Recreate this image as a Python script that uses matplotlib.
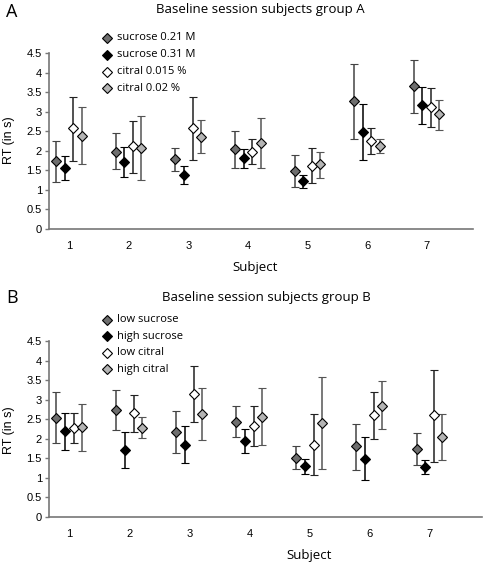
import numpy as np
import matplotlib
matplotlib.use("Agg")
import matplotlib.pyplot as plt
from matplotlib.lines import Line2D

subjects = [1, 2, 3, 4, 5, 6, 7]

# group A: mean, lower end, upper end of error bar (RT in s)
labels_a = ["sucrose 0.21 M", "sucrose 0.31 M", "citral 0.015 %", "citral 0.02 %"]
a_mean = [
    [1.73, 1.98, 1.79, 2.04, 1.49, 3.27, 3.65],
    [1.55, 1.71, 1.37, 1.81, 1.22, 2.47, 3.16],
    [2.57, 2.12, 2.57, 1.98, 1.62, 2.24, 3.12],
    [2.38, 2.08, 2.35, 2.20, 1.65, 2.12, 2.93],
]
a_low = [
    [1.20, 1.53, 1.49, 1.57, 1.08, 2.31, 2.96],
    [1.26, 1.34, 1.14, 1.57, 1.05, 1.76, 2.69],
    [1.75, 1.44, 1.76, 1.66, 1.17, 1.91, 2.62],
    [1.65, 1.24, 1.95, 1.57, 1.30, 1.95, 2.52],
]
a_high = [
    [2.25, 2.45, 2.06, 2.51, 1.89, 4.21, 4.32],
    [1.86, 2.10, 1.61, 2.04, 1.39, 3.20, 3.62],
    [3.38, 2.77, 3.38, 2.29, 2.08, 2.59, 3.61],
    [3.12, 2.90, 2.78, 2.85, 1.98, 2.30, 3.31],
]

# group B
labels_b = ["low sucrose", "high sucrose", "low citral", "high citral"]
b_mean = [
    [2.54, 2.73, 2.18, 2.44, 1.51, 1.80, 1.73],
    [2.20, 1.72, 1.83, 1.93, 1.30, 1.49, 1.27],
    [2.27, 2.66, 3.14, 2.33, 1.84, 2.60, 2.60],
    [2.31, 2.28, 2.64, 2.55, 2.41, 2.85, 2.03],
]
b_low = [
    [1.88, 2.23, 1.63, 2.03, 1.21, 1.20, 1.32],
    [1.72, 1.25, 1.37, 1.63, 1.10, 0.95, 1.09],
    [1.88, 2.16, 2.42, 1.80, 1.06, 1.99, 1.41],
    [1.68, 2.01, 1.97, 1.83, 1.21, 2.25, 1.44],
]
b_high = [
    [3.19, 3.24, 2.72, 2.85, 1.82, 2.38, 2.15],
    [2.67, 2.16, 2.33, 2.26, 1.49, 2.03, 1.44],
    [2.67, 3.13, 3.86, 2.85, 2.62, 3.21, 3.77],
    [2.90, 2.56, 3.30, 3.29, 3.59, 3.47, 2.62],
]

face = ["#6e6e6e", "black", "white", "#b4b4b4"]
barc = ["#444444", "black", "#222222", "#555555"]
offs = [-0.22, -0.075, 0.07, 0.21]

fig = plt.figure(figsize=(4.84, 5.64), dpi=100)
axA = fig.add_axes([0.101, 0.594, 0.876, 0.312])
axB = fig.add_axes([0.101, 0.084, 0.895, 0.311])


def panel(ax, mean, low, high, xmax):
    x = np.array(subjects, dtype=float)
    for k in range(4):
        m = np.array(mean[k])
        err = [m - np.array(low[k]), np.array(high[k]) - m]
        ax.errorbar(x + offs[k], m, yerr=err, fmt="D", ms=5, mfc=face[k],
                    mec="black", mew=0.8, ecolor=barc[k], elinewidth=1.1,
                    capsize=2.6, capthick=1.1, zorder=3)
    ax.set_xlim(0.66, xmax)
    ax.set_ylim(0, 4.5)
    ax.set_yticks(np.arange(0, 4.51, 0.5))
    ax.set_yticklabels(["0", "0.5", "1", "1.5", "2", "2.5", "3", "3.5", "4", "4.5"])
    ax.set_xticks(subjects)
    for s in ["top", "right"]:
        ax.spines[s].set_visible(False)
    for s in ["left", "bottom"]:
        ax.spines[s].set_color("#777777")
        ax.spines[s].set_linewidth(1.2)
    ax.tick_params(axis="y", length=3, width=1, color="#777777", labelsize=8, pad=2)
    ax.tick_params(axis="x", length=0, labelsize=8, pad=9)
    for t in ax.get_xticklabels() + ax.get_yticklabels():
        t.set_fontfamily("Liberation Sans")


panel(axA, a_mean, a_low, a_high, 7.77)
panel(axB, b_mean, b_low, b_high, 7.87)


def legend(labels, x0, y0, dy):
    for k, lab in enumerate(labels):
        y = y0 - k * dy
        fig.add_artist(Line2D([x0], [y], marker="D", ms=5, mfc=face[k], mec="black",
                              mew=0.8, transform=fig.transFigure))
        fig.text(x0 + 0.02, y, lab, fontsize=8, family="Open Sans", va="center")


legend(labels_a, 107 / 484, 1 - 38 / 564, 16.8 / 564)
legend(labels_b, 107 / 484, 1 - 320 / 564, 16.4 / 564)

fig.text(260 / 484, 1 - 10 / 564, "Baseline session subjects group A", ha="center",
         va="center", fontsize=9.5, family="Open Sans")
fig.text(266 / 484, 1 - 298 / 564, "Baseline session subjects group B", ha="center",
         va="center", fontsize=9.5, family="Open Sans")
fig.text(0.012, 1 - 12 / 564, "A", fontsize=13, family="Open Sans", va="center")
fig.text(0.012, 1 - 298 / 564, "B", fontsize=13, family="Open Sans", va="center")

fig.text(255 / 484, 1 - 268 / 564, "Subject", ha="center", va="center",
         fontsize=9.5, family="Open Sans")
fig.text(309 / 484, 1 - 556 / 564, "Subject", ha="center", va="center",
         fontsize=9.5, family="Open Sans")
fig.text(0.018, 1 - 140 / 564, "RT (in s)", rotation=90, ha="center", va="center",
         fontsize=9, family="Liberation Sans")
fig.text(0.018, 1 - 430 / 564, "RT (in s)", rotation=90, ha="center", va="center",
         fontsize=9, family="Liberation Sans")

fig.savefig("out.png", dpi=100)
